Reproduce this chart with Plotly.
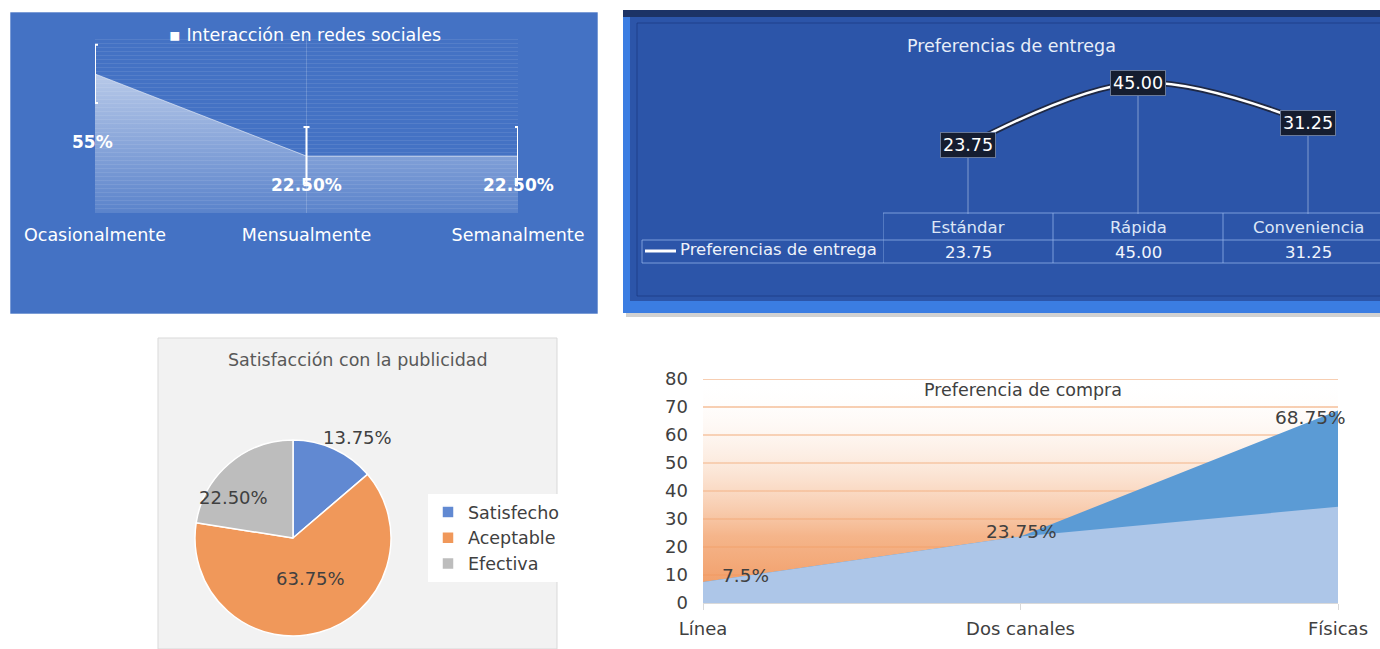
import plotly.graph_objects as go

W, H = 1380, 649
FONT = "DejaVu Sans"


def fx(px):
    return px / W


def fy(py):
    return 1 - py / H


# ---------------- data ----------------
# Panel 1: Interacción en redes sociales
cats1 = ["Ocasionalmente", "Mensualmente", "Semanalmente"]
vals1 = [55, 22.5, 22.5]
err1 = [11.5, 11.5, 11.5]
labels1 = ["55%", "22.50%", "22.50%"]
title1 = "▪ Interacción en redes sociales"

# Panel 2: Preferencias de entrega
cats2 = ["Estándar", "Rápida", "Conveniencia"]
vals2 = [23.75, 45.00, 31.25]
series2 = "Preferencias de entrega"

# Panel 3: Satisfacción con la publicidad
cats3 = ["Satisfecho", "Aceptable", "Efectiva"]
vals3 = [13.75, 63.75, 22.50]
title3 = "Satisfacción con la publicidad"

# Panel 4: Preferencia de compra
cats4 = ["Línea", "Dos canales", "Físicas"]
vals4_main = [7.5, 23.75, 68.75]
vals4_second = [7.5, 23.75, 34.4]
y4_max = 80
title4 = "Preferencia de compra"

fig = go.Figure()

# ---------------- panel backgrounds ----------------
shapes = []
# panel 1
shapes.append(dict(type="rect", xref="paper", yref="paper", x0=fx(10), x1=fx(598), y0=fy(314), y1=fy(12),
                   fillcolor="#4472C4", line=dict(color="rgba(255,255,255,0.6)", width=1), layer="below"))
# panel 2 frame
shapes.append(dict(type="rect", xref="paper", yref="paper", x0=fx(626), x1=1, y0=fy(317), y1=fy(13),
                   fillcolor="rgba(0,0,0,0.18)", line=dict(width=0), layer="below"))
shapes.append(dict(type="rect", xref="paper", yref="paper", x0=fx(623), x1=1, y0=fy(313), y1=fy(10),
                   fillcolor="#3B7DE2", line=dict(width=0), layer="below"))
shapes.append(dict(type="rect", xref="paper", yref="paper", x0=fx(623), x1=1, y0=fy(17), y1=fy(10),
                   fillcolor="#1C3366", line=dict(width=0), layer="below"))
shapes.append(dict(type="rect", xref="paper", yref="paper", x0=fx(630), x1=1, y0=fy(301), y1=fy(17),
                   fillcolor="#2C55A9", line=dict(width=0), layer="below"))
shapes.append(dict(type="rect", xref="paper", yref="paper", x0=fx(637), x1=fx(1385), y0=fy(296), y1=fy(23),
                   fillcolor="rgba(0,0,0,0)", line=dict(color="rgba(25,50,120,0.6)", width=1), layer="below"))
# panel 3
shapes.append(dict(type="rect", xref="paper", yref="paper", x0=fx(158), x1=fx(557), y0=0, y1=fy(338),
                   fillcolor="#F2F2F2", line=dict(color="#D9D9D9", width=1), layer="below"))

# ---------------- panel 1 traces ----------------
fig.add_trace(go.Scatter(
    x=cats1, y=vals1, xaxis="x", yaxis="y", mode="lines",
    line=dict(color="rgba(255,255,255,0.55)", width=1),
    fill="tozeroy",
    fillgradient=dict(type="vertical", start=0, stop=max(vals1),
                      colorscale=[[0, "rgba(255,255,255,0.12)"], [1, "rgba(255,255,255,0.62)"]]),
    error_y=dict(type="data", array=err1, color="white", thickness=2, width=3),
    showlegend=False, hoverinfo="skip"))

# ---------------- panel 2 traces ----------------
fig.add_trace(go.Scatter(
    x=cats2, y=vals2, xaxis="x2", yaxis="y2", mode="markers",
    marker=dict(size=1, color="rgba(0,0,0,0)"),
    error_y=dict(type="data", symmetric=False, array=[0] * len(vals2), arrayminus=vals2,
                 color="rgba(200,215,240,0.55)", thickness=1, width=0),
    showlegend=False, hoverinfo="skip"))
fig.add_trace(go.Scatter(
    x=cats2, y=vals2, xaxis="x2", yaxis="y2", mode="lines",
    line=dict(color="rgba(25,25,35,0.75)", width=6, shape="spline", smoothing=1),
    showlegend=False, hoverinfo="skip"))
fig.add_trace(go.Scatter(
    x=cats2, y=vals2, xaxis="x2", yaxis="y2", mode="lines",
    line=dict(color="white", width=2.5, shape="spline", smoothing=1),
    showlegend=False, name=series2))

# ---------------- panel 3 pie ----------------
fig.add_trace(go.Pie(
    labels=cats3, values=vals3, sort=False, direction="clockwise", rotation=0,
    marker=dict(colors=["#6189D2", "#F0985A", "#BDBDBD"], line=dict(color="white", width=1.5)),
    textinfo="none",
    domain=dict(x=[fx(195), fx(391)], y=[fy(636), fy(440)]),
    showlegend=True, hoverinfo="skip"))

# ---------------- panel 4 traces ----------------
fig.add_trace(go.Scatter(
    x=cats4, y=[y4_max] * len(cats4), xaxis="x3", yaxis="y3", mode="lines",
    line=dict(width=0), fill="tozeroy",
    fillgradient=dict(type="vertical", start=0, stop=y4_max,
                      colorscale=[[0, "rgba(240,145,85,0.95)"], [0.3, "rgba(243,168,118,0.85)"],
                                  [0.6, "rgba(249,212,186,0.55)"], [1, "rgba(255,255,255,0)"]]),
    showlegend=False, hoverinfo="skip"))
fig.add_trace(go.Scatter(
    x=cats4, y=vals4_main, xaxis="x3", yaxis="y3", mode="lines",
    line=dict(width=0), fill="tozeroy", fillcolor="#5B9BD5",
    showlegend=False, hoverinfo="skip"))
fig.add_trace(go.Scatter(
    x=cats4, y=vals4_second, xaxis="x3", yaxis="y3", mode="lines",
    line=dict(width=0), fill="tozeroy", fillcolor="#ADC6E8",
    showlegend=False, hoverinfo="skip"))

# ---------------- annotations ----------------
ann = []
# panel 1
ann.append(dict(text=title1, xref="paper", yref="paper", x=fx(305), y=fy(35), showarrow=False,
                xanchor="center", yanchor="middle",
                font=dict(family=FONT, size=17.5, color="white")))
shifts1 = [(-3, -68), (0, -29), (0, -29)]
for c, v, t, (dx, dy) in zip(cats1, vals1, labels1, shifts1):
    ann.append(dict(text="<b>" + t + "</b>", x=c, y=v, xref="x", yref="y", showarrow=False,
                    xanchor="center", yanchor="middle",
                    xshift=dx, yshift=dy, font=dict(family=FONT, size=17, color="white")))

# panel 2
ann.append(dict(text=series2, xref="paper", yref="paper", x=fx(1011), y=fy(46), showarrow=False,
                xanchor="center", yanchor="middle",
                font=dict(family=FONT, size=17.5, color="#E8EEF8")))
for c, v in zip(cats2, vals2):
    ann.append(dict(text=f"{v:.2f}", x=c, y=v, xref="x2", yref="y2", showarrow=False,
                    xanchor="center", yanchor="middle",
                    bgcolor="#151D30", bordercolor="#6A7A9A", borderwidth=1, borderpad=2,
                    font=dict(family=FONT, size=17.5, color="white")))
    ann.append(dict(text=c, x=c, y=fy(227), xref="x2", yref="paper", showarrow=False,
                    xanchor="center", yanchor="middle",
                    font=dict(family=FONT, size=16.5, color="#DCE6F6")))
    ann.append(dict(text=f"{v:.2f}", x=c, y=fy(252), xref="x2", yref="paper", showarrow=False,
                    xanchor="center", yanchor="middle",
                    font=dict(family=FONT, size=16.5, color="#F0F4FC")))
ann.append(dict(text=series2, x=fx(678), y=fy(250), xref="paper", yref="paper", xanchor="left",
                yanchor="middle",
                showarrow=False, font=dict(family=FONT, size=16.5, color="#EEF2FA")))

# table lines (panel 2)
tl = dict(color="rgba(150,180,235,0.75)", width=1)
shapes.append(dict(type="line", xref="x2", yref="paper", x0=-0.5, x1=len(cats2) - 0.5, y0=fy(213), y1=fy(213), line=tl))
shapes.append(dict(type="line", xref="paper", yref="paper", x0=fx(642), x1=1, y0=fy(240), y1=fy(240), line=tl))
shapes.append(dict(type="line", xref="paper", yref="paper", x0=fx(642), x1=1, y0=fy(263), y1=fy(263), line=tl))
shapes.append(dict(type="line", xref="paper", yref="paper", x0=fx(642), x1=fx(642), y0=fy(263), y1=fy(240), line=tl))
for i in range(len(cats2)):
    shapes.append(dict(type="line", xref="x2", yref="paper", x0=i - 0.5, x1=i - 0.5, y0=fy(263), y1=fy(213), line=tl))
shapes.append(dict(type="line", xref="paper", yref="paper", x0=fx(645), x1=fx(676), y0=fy(251), y1=fy(251),
                   line=dict(color="white", width=3)))

# panel 3
ann.append(dict(text=title3, xref="paper", yref="paper", x=fx(358), y=fy(360), showarrow=False,
                xanchor="center", yanchor="middle",
                font=dict(family=FONT, size=17.5, color="#595959")))
pie_label_pos = [(357, 437), (310, 578), (233, 497)]
total3 = sum(vals3)
for v, (lx, ly) in zip(vals3, pie_label_pos):
    ann.append(dict(text=f"{v / total3:.2%}", xref="paper", yref="paper", x=fx(lx), y=fy(ly),
                    showarrow=False, xanchor="center", yanchor="middle",
                    font=dict(family=FONT, size=18, color="#404040")))

# panel 4
ann.append(dict(text=title4, xref="paper", yref="paper", x=fx(1023), y=fy(390), showarrow=False,
                xanchor="center", yanchor="middle",
                font=dict(family=FONT, size=17.5, color="#404040")))
shifts4 = [(42, 7), (1, 5), (-28, -7)]
for c, v, (dx, dy) in zip(cats4, vals4_main, shifts4):
    ann.append(dict(text=f"{v:g}%", x=c, y=v, xref="x3", yref="y3", showarrow=False,
                    xanchor="center", yanchor="middle",
                    xshift=dx, yshift=dy, font=dict(family=FONT, size=18.5, color="#404040")))
# top gridline of panel 4
shapes.append(dict(type="line", xref="x3 domain", yref="y3", x0=0, x1=1, y0=y4_max, y1=y4_max,
                   line=dict(color="#F4BE98", width=1.5)))

# ---------------- layout ----------------
spacing2 = 170  # px per category in panel 2
fig.update_layout(
    width=W, height=H, margin=dict(l=0, r=0, t=0, b=0, pad=0, autoexpand=False),
    paper_bgcolor="white", plot_bgcolor="rgba(0,0,0,0)",
    font=dict(family=FONT),
    shapes=shapes, annotations=ann,
    showlegend=True,
    legend=dict(x=fx(428), y=fy(494), xanchor="left", yanchor="top", bgcolor="white",
                font=dict(family=FONT, size=17.5, color="#404040"), itemwidth=30),
    xaxis=dict(domain=[fx(95), fx(518)], type="category", range=[0, 2], anchor="y", automargin=False,
               showgrid=True, gridcolor="rgba(255,255,255,0.18)", zeroline=False, showline=False,
               ticks="", tickfont=dict(family=FONT, size=17.5, color="white"), ticklabelstandoff=9),
    yaxis=dict(domain=[fy(213), fy(36)], range=[0, 70], dtick=1.6, anchor="x", automargin=False,
               showgrid=True, gridcolor="rgba(255,255,255,0.09)", zeroline=False, showticklabels=False),
    xaxis2=dict(domain=[fx(883), 1], type="category", range=[-0.5, -0.5 + (W - 883) / spacing2], anchor="y2",
                automargin=False, showgrid=False, zeroline=False, showticklabels=False, ticks=""),
    yaxis2=dict(domain=[fy(214), fy(60)], range=[0, 154 / 2.918], anchor="x2", automargin=False,
                showgrid=False, zeroline=False, showticklabels=False),
    xaxis3=dict(domain=[fx(703), fx(1338)], type="category", range=[0, 2], anchor="y3", automargin=False,
                showgrid=False, zeroline=False, showline=True, linecolor="#D9D9D9",
                ticks="outside", ticklen=6, tickcolor="#D9D9D9",
                tickfont=dict(family=FONT, size=18, color="#404040"), ticklabelstandoff=3),
    yaxis3=dict(domain=[fy(603), fy(379)], range=[0, y4_max], dtick=10, anchor="x3", automargin=False,
                showgrid=True, gridcolor="#F6C7A6", gridwidth=1.5, zeroline=False, showline=False,
                tickfont=dict(family=FONT, size=18, color="#404040"), ticklabelstandoff=14),
)

fig.write_html("out.html")
